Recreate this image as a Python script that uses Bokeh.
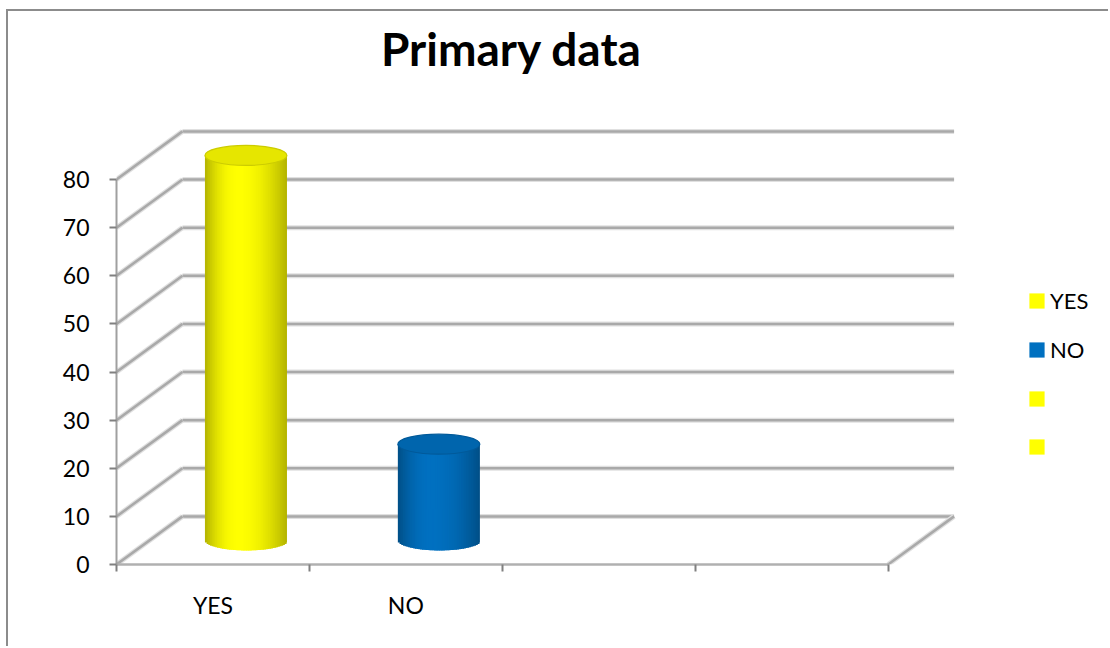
import numpy as np
from bokeh.plotting import figure
from bokeh.models import FixedTicker, Legend, LegendItem, Label
from bokeh.core.properties import value
from bokeh.embed import file_html
from bokeh.resources import INLINE

# ---- data -------------------------------------------------------------
title_text = "Primary data"
categories = ["YES", "NO", "", ""]
values = [80, 20, None, None]
colors = ["#FFFF00", "#0070C0", "#FFFF00", "#FFFF00"]
y_ticks = [0, 10, 20, 30, 40, 50, 60, 70, 80]

# ---- styling / layout -------------------------------------------------
FONT = "Lato"
DEPTH_X = 0.342      # oblique shift of the back wall (category units)
DEPTH_Y = 10         # oblique shift of the back wall (value units)
BAR_W = 0.425        # cylinder diameter (category units)
CAP_H = 2.08         # half height of the cylinder ellipses (value units)
GRID_CORE = "#A9A9A9"
GRID_SOFT = "#E0E0E0"

W, H = 1102, 637                 # canvas size (inside the frame rule)
LEFT, BOTTOM = 108, 84           # room for the value and category axes
PX_X, PX_Y = 192.9, 4.8125       # pixels per category / per value unit

n = len(categories)
y_max = max(y_ticks)
x_end = (W - LEFT) / PX_X
y_end = (H - BOTTOM) / PX_Y

p = figure(width=W, height=H,
           x_range=(0, x_end), y_range=(0, y_end),
           output_backend="svg", toolbar_location=None,
           min_border_left=LEFT, min_border_right=0,
           min_border_top=0, min_border_bottom=BOTTOM)
# chart-area frame: grey rule along the top and left edge
p.margin = (9, 0, 0, 6)
p.styles = {"border-left": "2px solid #8C8C8C", "border-top": "2px solid #8C8C8C"}
p.outline_line_color = None
p.xgrid.visible = False
p.ygrid.visible = False
p.background_fill_color = "white"
p.border_fill_color = "white"


def shade(hex_color, f):
    r, g, b = (int(hex_color[i:i + 2], 16) for i in (1, 3, 5))
    return "#%02x%02x%02x" % tuple(min(255, max(0, round(c * f))) for c in (r, g, b))


def soft_segments(x0, y0, x1, y1):
    p.segment(x0=x0, y0=y0, x1=x1, y1=y1, line_color=GRID_SOFT, line_width=5)
    p.segment(x0=x0, y0=y0, x1=x1, y1=y1, line_color=GRID_CORE, line_width=2.5)


# back wall gridlines, side wall diagonals and floor edge
soft_segments([DEPTH_X] * len(y_ticks), [t + DEPTH_Y for t in y_ticks],
              [n + DEPTH_X] * len(y_ticks), [t + DEPTH_Y for t in y_ticks])
soft_segments([0] * len(y_ticks), y_ticks,
              [DEPTH_X] * len(y_ticks), [t + DEPTH_Y for t in y_ticks])
soft_segments([n], [0], [n + DEPTH_X], [DEPTH_Y])

# cylinders, shaded with thin overlapping vertical strips
N = 48
edges = np.linspace(0, 1, N + 1)
step = edges[1] - edges[0]
um = (edges[:-1] + edges[1:]) / 2
dist = np.where(um > 0.4, (um - 0.4) / 0.6, (0.4 - um) / 0.4)
bright = 1 - 0.30 * dist ** 2

for i, (cat, v, c) in enumerate(zip(categories, values, colors)):
    if v is None:
        continue
    cx = i + 0.5 + DEPTH_X / 2
    base = DEPTH_Y / 2
    top = v + DEPTH_Y / 2
    left = cx - BAR_W / 2 + edges[:-1] * BAR_W
    right = cx - BAR_W / 2 + np.minimum(edges[1:] + step * 0.8, 1) * BAR_W
    t = 2 * um - 1
    bottoms = base - CAP_H * np.sqrt(np.clip(1 - t ** 2, 0, 1))
    strip_cols = [shade(c, f) for f in bright]
    p.quad(left=left, right=right, bottom=bottoms, top=[top] * N,
           fill_color=strip_cols, line_color=None)
    p.ellipse(x=[cx], y=[top], width=BAR_W, height=2 * CAP_H,
              fill_color=shade(c, 0.9), line_color=shade(c, 0.8), line_width=1.2)

# ---- axes -------------------------------------------------------------
yax = p.yaxis[0]
yax.ticker = FixedTicker(ticks=y_ticks)
yax.bounds = (0, y_max)
yax.axis_line_color = "#A0A0A0"
yax.axis_line_width = 2
yax.major_tick_line_color = "#808080"
yax.major_tick_line_width = 2
yax.major_tick_out = 7
yax.major_tick_in = 0
yax.minor_tick_line_color = None
yax.major_label_standoff = 20
yax.major_label_text_font = FONT
yax.major_label_text_font_size = "23px"
yax.major_label_text_color = "black"

xax = p.xaxis[0]
centers = [i + 0.5 for i in range(n)]
xax.ticker = FixedTicker(ticks=centers, minor_ticks=list(range(n + 1)))
xax.major_label_overrides = {c: lab for c, lab in zip(centers, categories)}
xax.bounds = (0, n)
xax.axis_line_color = "#B0B0B0"
xax.axis_line_width = 2.5
xax.major_tick_out = 0
xax.major_tick_in = 0
xax.minor_tick_line_color = "#808080"
xax.minor_tick_line_width = 2
xax.minor_tick_out = 7
xax.minor_tick_in = 0
xax.major_label_standoff = 19
xax.major_label_text_font = FONT
xax.major_label_text_font_size = "23px"
xax.major_label_text_color = "black"

# ---- legend -----------------------------------------------------------
items = []
for i, (cat, c) in enumerate(zip(categories, colors)):
    # zero-size swatch renderer, one per category, used only by the legend
    r = p.rect(x=[i + 0.5], y=[0], width=0, height=0,
               fill_color=c, line_color=None)
    items.append(LegendItem(label=value(cat), renderers=[r]))
legend = Legend(items=items, location=(911, 105),
                glyph_width=19, glyph_height=19, label_standoff=4,
                label_text_font=FONT, label_text_font_size="22px",
                label_text_color="black",
                label_height=26, spacing=22, padding=0, margin=0,
                border_line_color=None, background_fill_alpha=0)
p.add_layout(legend)

# ---- title ------------------------------------------------------------
p.add_layout(Label(x=(511 - 116) / PX_X, y=(564 - 48) / PX_Y, text=title_text,
                   text_align="center", text_baseline="middle",
                   text_font=FONT, text_font_style="bold",
                   text_font_size="46px", text_color="black"))

open("out.html", "w").write(file_html(p, INLINE))
